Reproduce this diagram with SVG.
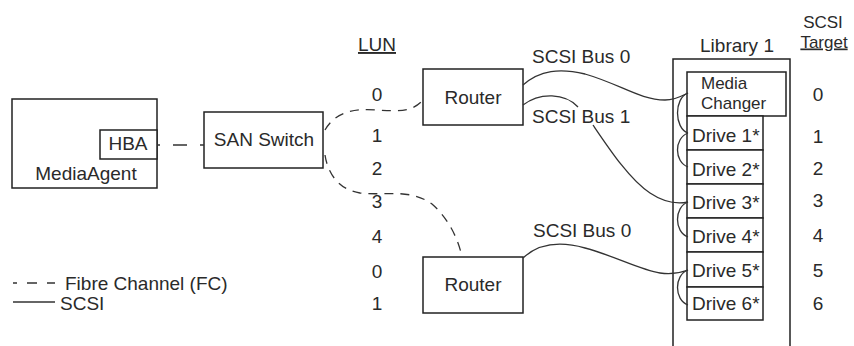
<svg xmlns="http://www.w3.org/2000/svg" width="854" height="346" viewBox="0 0 854 346">
<style>
text{font-family:"Liberation Sans",Arial,sans-serif;font-size:19px;fill:#2a2a2a}
.s{font-size:17px}
.box{fill:#fff;stroke:#222;stroke-width:1.5}
.fc{fill:none;stroke:#333;stroke-width:1.3;stroke-dasharray:9,7}
.scsi{fill:none;stroke:#333;stroke-width:1.3}
.m{text-anchor:middle}
.u{text-decoration:underline}
</style>
<rect width="854" height="346" fill="#fff"/>
<g id="mediaagent">
<rect class="box" x="12" y="99" width="145" height="89"/>
<text class="m" x="86" y="180">MediaAgent</text>
</g>
<g id="hba">
<rect class="box" x="100" y="130" width="57" height="29"/>
<text class="m" x="128" y="150">HBA</text>
</g>
<g id="sanswitch">
<rect class="box" x="204" y="112" width="119" height="56"/>
<text class="m" x="264" y="146">SAN Switch</text>
</g>
<g id="router1">
<rect class="box" x="423" y="69" width="100" height="56"/>
<text class="m" x="473" y="104">Router</text>
</g>
<g id="router2">
<rect class="box" x="423" y="257" width="100" height="56"/>
<text class="m" x="473" y="291">Router</text>
</g>
<g id="library1">
<path d="M673,350 V59 H790 V350" fill="none" stroke="#222" stroke-width="1.5"/>
<text class="m" x="737" y="52">Library 1</text>
</g>
<g id="mediachanger">
<rect class="box" x="687" y="72" width="99" height="44"/>
<text class="s" x="701" y="89">Media</text>
<text class="s" x="701" y="108.5">Changer</text>
</g>
<g id="drive1"><rect class="box" x="687" y="116" width="76" height="34"/><text x="692" y="142">Drive 1*</text></g>
<g id="drive2"><rect class="box" x="687" y="150" width="76" height="34"/><text x="692" y="175.5">Drive 2*</text></g>
<g id="drive3"><rect class="box" x="687" y="184" width="76" height="34"/><text x="692" y="209">Drive 3*</text></g>
<g id="drive4"><rect class="box" x="687" y="218" width="76" height="34"/><text x="692" y="243">Drive 4*</text></g>
<g id="drive5"><rect class="box" x="687" y="252" width="76" height="35"/><text x="692" y="276.5">Drive 5*</text></g>
<g id="drive6"><rect class="box" x="687" y="287" width="76" height="33"/><text x="692" y="310">Drive 6*</text></g>
<g id="lun-labels">
<text class="m u" x="377" y="51">LUN</text>
<text class="m" x="377" y="101">0</text>
<text class="m" x="377" y="142">1</text>
<text class="m" x="377" y="175">2</text>
<text class="m" x="377" y="208">3</text>
<text class="m" x="377" y="243">4</text>
<text class="m" x="377" y="278">0</text>
<text class="m" x="377" y="310">1</text>
</g>
<g id="target-labels">
<text class="m s" x="823" y="28">SCSI</text>
<text class="m u s" x="824" y="47.5">Target</text>
<text class="m" x="818" y="101">0</text>
<text class="m" x="818" y="143">1</text>
<text class="m" x="818" y="175">2</text>
<text class="m" x="818" y="207">3</text>
<text class="m" x="818" y="242">4</text>
<text class="m" x="818" y="277">5</text>
<text class="m" x="818" y="310">6</text>
</g>
<g id="connectors">
<path d="M157,145 H204" fill="none" stroke="#333" stroke-width="1.3" stroke-dasharray="3,13,14,13,4"/>
<path class="fc" d="M325,130 C335,112 355,108 377,110 C395,111 412,113 423,100"/>
<path class="fc" d="M325,155 C328,175 340,190 360,193 C385,196 410,188 432,204 C448,218 458,238 462,257"/>
<path class="scsi" d="M523,85 C540,70 560,68 585,74 C620,84 640,100 665,100 C675,100 682,96 688,93"/>
<path class="scsi" d="M523,105 C540,92 565,93 578,107"/>
<path class="scsi" d="M593,125 C610,150 630,180 650,193 C665,203 678,204 688,202"/>
<path class="scsi" d="M523,258 C538,244 560,241 585,248 C615,256 640,270 660,273 C672,275 680,273 688,270"/>
<path class="scsi" d="M688,93 C674,98 674,128 688,133"/>
<path class="scsi" d="M688,133 C674,138 674,162 688,167"/>
<path class="scsi" d="M688,202 C674,207 674,232 688,237"/>
<path class="scsi" d="M688,270 C674,275 674,300 688,305"/>
<text x="532" y="63">SCSI Bus 0</text>
<text x="532" y="123">SCSI Bus 1</text>
<text x="533" y="237">SCSI Bus 0</text>
</g>
<g id="legend">
<path d="M13,283 H55" fill="none" stroke="#333" stroke-width="1.3" stroke-dasharray="4,10,10,10,8"/>
<text x="65" y="290">Fibre Channel (FC)</text>
<path d="M13,302 H55" fill="none" stroke="#333" stroke-width="1.3"/>
<text x="60" y="310">SCSI</text>
</g>
</svg>
